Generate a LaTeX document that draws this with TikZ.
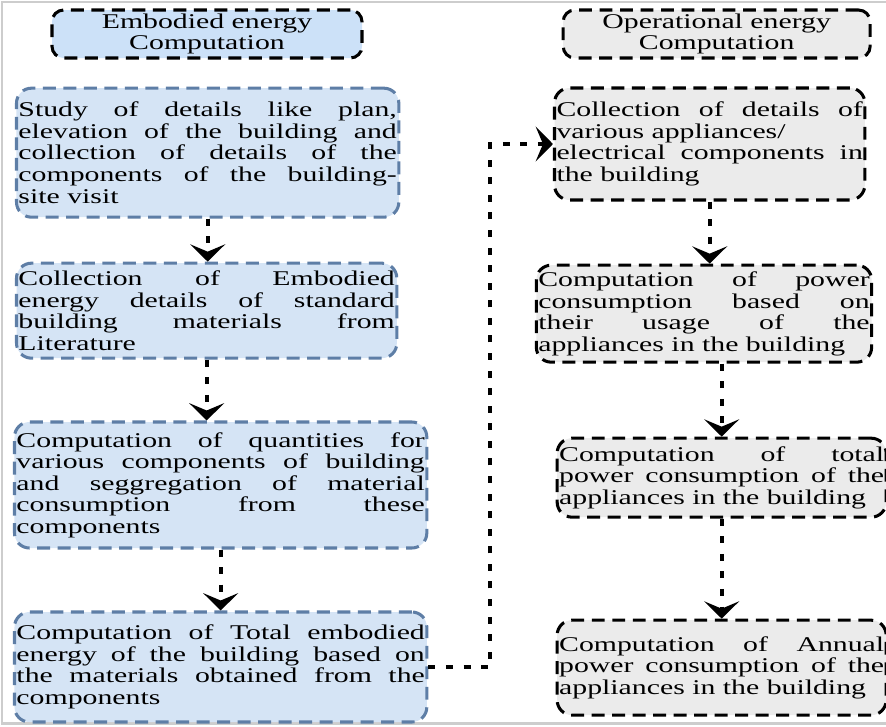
\documentclass[tikz,border=0pt]{standalone}
\usepackage{fontspec}
\setmainfont{Liberation Serif}[FakeStretch=1.42]
\usepackage{xcolor}
\usepackage{tikz}
\usetikzlibrary{arrows.meta}
\definecolor{cemb}{RGB}{213,228,245}
\definecolor{cembhead}{RGB}{204,225,248}
\definecolor{cembline}{RGB}{94,126,166}
\definecolor{cop}{RGB}{235,235,235}
\definecolor{cframe}{RGB}{205,205,205}
\tolerance=10000
\hbadness=10000

\begin{document}
\begin{tikzpicture}[font=\fontsize{17.9}{18.4}\selectfont,
  head/.style={draw=black,line width=2.6pt,dash pattern=on 11pt off 6.5pt,rounded corners=0.35cm,minimum height=1.44cm,align=center,inner sep=0pt},
  card/.style={line width=2.6pt,dash pattern=on 11pt off 6.5pt,rounded corners=0.45cm,inner xsep=0.06cm,inner ysep=0pt,align=justify},
  embox/.style={card,draw=cembline,fill=cemb},
  opbox/.style={card,draw=black,fill=cop},
  flow/.style={-{Stealth[length=0.52cm,width=1.05cm,inset=0.22cm]},line width=3.2pt,dash pattern=on 6pt off 9pt},
]
\useasboundingbox (0,0) rectangle (26.58,-21.78);
\draw[cframe,line width=2pt] (26.58,-0.06) -| (0.06,-21.7) -- (26.58,-21.7);

% column headers
\node[head,fill=cembhead,minimum width=9.3cm] (embhead) at (6.21,-1.02) {Embodied energy\\Computation};
\node[head,fill=cop,minimum width=9.21cm] (ophead) at (21.50,-1.02) {Operational energy\\Computation};

% embodied energy steps
\node[embox,text width=11.35cm,minimum height=3.87cm] (study) at (6.23,-4.58)
  {Study of details like plan, \linebreak elevation of the building and \linebreak collection of details of the \linebreak components of the building-\linebreak site visit};
\node[embox,text width=11.29cm,minimum height=2.85cm] (eedata) at (6.20,-9.32)
  {Collection of Embodied \linebreak energy details of standard \linebreak building materials from \linebreak Literature};
\node[embox,text width=12.25cm,minimum height=3.78cm] (qty) at (6.62,-14.55)
  {Computation of quantities for \linebreak various components of building \linebreak and seggregation of material \linebreak consumption from these \linebreak components};
\node[embox,text width=12.25cm,minimum height=3.3cm] (eetotal) at (6.62,-20.01)
  {Computation of Total embodied \linebreak energy of the building based on \linebreak the materials obtained from the \linebreak components};

% operational energy steps
\node[opbox,text width=9.19cm,minimum height=3.36cm] (appl) at (21.29,-4.32)
  {Collection of details of \linebreak various appliances/\\electrical components in \linebreak the building};
\node[opbox,text width=9.94cm,minimum height=2.91cm] (usage) at (21.12,-9.41)
  {Computation of power \linebreak consumption based on \linebreak their usage of the \linebreak appliances in the building};
\node[opbox,text width=9.75cm,minimum height=2.37cm] (pwtotal) at (21.65,-14.33)
  {Computation of total \linebreak power consumption of the \linebreak appliances in the building};
\node[opbox,text width=9.75cm,minimum height=2.85cm] (annual) at (21.65,-20.03)
  {Computation of Annual \linebreak power consumption of the \linebreak appliances in the building};

\draw[flow] (study.south) -- (study.south |- eedata.north);
\draw[flow] (eedata.south) -- (eedata.south |- qty.north);
\draw[flow] (qty.south) -- (eetotal.north);
\draw[flow] (eetotal.east) -- ++(1.86,0) |- (appl.west);
\draw[flow] (appl.south) -- (appl.south |- usage.north);
\draw[flow] (pwtotal.north |- usage.south) -- (pwtotal.north);
\draw[flow] (pwtotal.south) -- (annual.north);
\end{tikzpicture}
\end{document}
